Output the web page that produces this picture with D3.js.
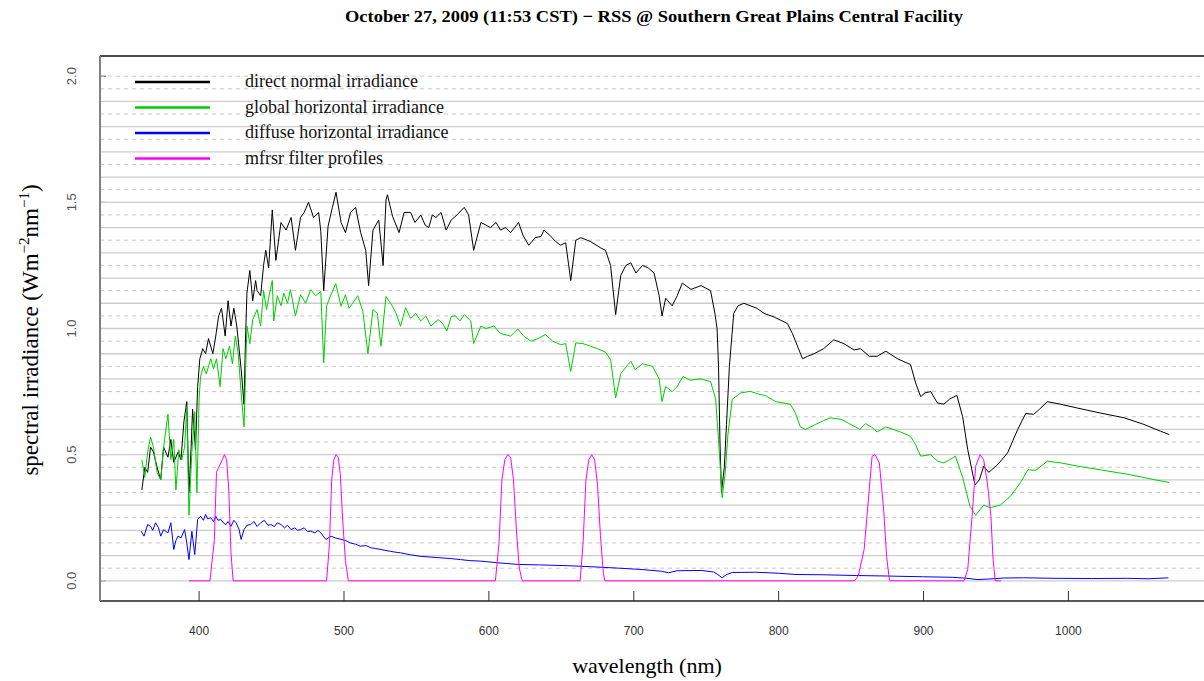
<!DOCTYPE html>
<html>
<head>
<meta charset="utf-8">
<script src="https://cdn.jsdelivr.net/npm/d3@7"></script>
<style>
  body { margin: 0; background: #fff; }
  svg { display: block; }
</style>
</head>
<body>
<svg id="chart"></svg>
<script>
(function() {

// ---------------- data (wavelength nm, irradiance) ----------------
const directNormal = [
  [360.5,0.36],[362.5,0.45],[364.5,0.43],[366.5,0.53],[368.5,0.51],[371,0.45],[373.5,0.40],[375.5,0.53],
  [378.5,0.49],[380.5,0.56],[382.5,0.47],[385.5,0.51],[387.5,0.48],[389.5,0.63],[391.5,0.71],[393,0.35],
  [394.5,0.53],[395.5,0.68],[397.5,0.52],[399,0.77],[400.5,0.88],[402.5,0.92],[404.5,0.90],[406.5,0.96],
  [409.5,0.90],[411.5,0.97],[413.5,1.05],[415.5,1.08],[418,0.97],[420,1.11],[422,1.01],[424,1.08],
  [426,1.01],[429,0.84],[431,0.70],[432,0.95],[433,1.14],[435,1.23],[437,1.11],[439,1.19],[440,1.15],
  [442.5,1.13],[444.5,1.25],[446,1.31],[448,1.24],[450.5,1.47],[453,1.27],[456.5,1.42],[460,1.39],
  [463.5,1.44],[466.5,1.31],[470,1.44],[472.5,1.46],[475.5,1.50],[479,1.44],[482.5,1.46],[484,1.385],
  [486,1.15],[489,1.405],[492,1.48],[494.5,1.54],[498,1.42],[501,1.38],[504.5,1.46],[508,1.48],
  [511.5,1.38],[515,1.31],[517,1.17],[520,1.39],[524,1.43],[527,1.25],[529,1.51],[530,1.53],
  [533.5,1.445],[538,1.38],[541.5,1.46],[546,1.46],[549,1.42],[553,1.45],[556,1.41],[558.5,1.40],
  [561,1.45],[563.5,1.44],[567,1.46],[570.5,1.39],[574,1.43],[578,1.45],[583,1.48],[586,1.45],
  [589.5,1.31],[594.5,1.42],[598,1.41],[601,1.40],[605,1.42],[608,1.39],[611.5,1.40],[615,1.38],
  [620.5,1.42],[623.5,1.37],[627.5,1.33],[632,1.36],[636,1.365],[638,1.39],[642,1.37],[646,1.345],
  [649.5,1.33],[653,1.34],[656.5,1.19],[660,1.35],[663.5,1.36],[670,1.345],[677,1.32],[680.5,1.31],
  [684,1.25],[687.5,1.055],[691,1.21],[694.5,1.25],[698,1.26],[701.5,1.22],[706,1.25],[710,1.24],
  [714,1.22],[717.5,1.13],[719.5,1.05],[722,1.12],[726.5,1.09],[730,1.13],[733.5,1.18],[739.5,1.155],
  [746.5,1.17],[753,1.15],[756,1.06],[757.5,1.0],[758.5,0.85],[759.5,0.55],[760.5,0.35],[762.5,0.45],
  [764,0.62],[766,0.85],[769,1.06],[772,1.09],[776,1.10],[780.5,1.09],[785,1.08],[790,1.06],
  [797,1.045],[806,1.02],[809.5,0.98],[813,0.93],[816.5,0.88],[820,0.89],[824.5,0.90],[831,0.92],
  [838,0.955],[845,0.94],[852,0.915],[856.5,0.92],[862.5,0.89],[868,0.89],[874,0.91],[882,0.88],
  [891,0.857],[894.5,0.785],[898,0.73],[901,0.745],[905,0.75],[909.5,0.705],[914,0.70],[918,0.72],
  [923,0.735],[927,0.65],[930.5,0.52],[935.5,0.38],[938.5,0.40],[941.5,0.454],[945,0.43],[951,0.46],
  [958,0.507],[965,0.60],[970.5,0.663],[976,0.66],[980,0.68],[985.5,0.71],[994.5,0.70],[1006,0.685],
  [1022,0.665],[1038.5,0.646],[1052,0.62],[1063.5,0.593],[1069.5,0.58]
];

const globalHorizontal = [
  [360.5,0.48],[362.5,0.41],[364.5,0.51],[366.5,0.57],[368.5,0.53],[371,0.43],[373.5,0.40],[375.5,0.53],
  [378.5,0.66],[380.5,0.48],[382.5,0.56],[384,0.36],[386,0.52],[388,0.48],[390,0.53],[391.5,0.69],
  [393,0.26],[395,0.51],[397,0.67],[398.5,0.35],[400,0.72],[401,0.81],[403,0.85],[405,0.82],
  [408,0.88],[410,0.84],[412,0.88],[414.5,0.77],[416.5,0.92],[418.5,0.88],[421,0.93],[423,0.86],
  [425,0.97],[427,0.90],[429,0.745],[431,0.61],[433,1.01],[435,0.94],[437,1.035],[440,1.075],
  [442.5,1.01],[444.5,1.15],[446.5,1.075],[448,1.12],[450.5,1.19],[451.5,1.03],[454,1.13],[456.5,1.09],
  [458.5,1.14],[461,1.10],[463,1.154],[466.5,1.05],[470,1.134],[473.5,1.10],[477,1.154],[480.5,1.13],
  [484,1.147],[486,0.864],[488,1.09],[491,1.134],[494.3,1.178],[498,1.088],[501,1.134],[503.5,1.08],
  [506,1.10],[509.5,1.13],[513,1.068],[516.5,0.90],[520,1.075],[523,1.06],[525.5,0.93],[529,1.127],
  [533.5,1.088],[536,1.06],[539,1.009],[542.5,1.082],[546,1.04],[549.5,1.06],[553,1.03],[556.5,1.05],
  [560,1.01],[565,1.035],[568,1.02],[571,0.99],[574,1.048],[577,1.05],[580,1.03],[583,1.055],
  [587.5,1.03],[589.5,0.94],[594.5,1.01],[598,1.00],[603.5,1.01],[608,0.98],[615,0.97],[620,0.998],
  [624,0.97],[629,0.95],[634,0.96],[639,0.976],[644,0.95],[649.5,0.936],[653,0.94],[656.5,0.83],
  [660,0.943],[665,0.94],[670,0.93],[675,0.92],[680.5,0.906],[684,0.877],[687.5,0.725],[691,0.82],
  [696,0.857],[698,0.87],[701,0.837],[706,0.86],[713,0.85],[717.5,0.80],[719.5,0.71],[722,0.77],
  [726.5,0.75],[730,0.77],[734,0.81],[739,0.795],[746,0.80],[753,0.79],[756.5,0.72],[758.5,0.56],
  [761,0.33],[763,0.42],[765,0.58],[768,0.72],[774,0.745],[780.5,0.751],[786,0.74],[791,0.734],
  [798,0.71],[808,0.70],[811.5,0.666],[815,0.61],[818.5,0.60],[825.5,0.62],[831,0.635],[836,0.646],
  [843,0.64],[848,0.625],[853,0.61],[856,0.60],[860,0.623],[864,0.61],[868,0.59],[874,0.61],
  [879,0.60],[884,0.59],[891,0.573],[894.5,0.54],[898,0.494],[905,0.50],[909.5,0.475],[914,0.467],
  [918,0.48],[922,0.494],[927,0.41],[932,0.296],[936,0.26],[941.5,0.30],[946,0.29],[953,0.30],
  [960,0.335],[967,0.39],[972,0.44],[977.5,0.438],[985.5,0.474],[995,0.467],[1006,0.455],[1022,0.44],
  [1043,0.42],[1060,0.40],[1069.5,0.39]
];

const diffuseHorizontal = [
  [360,0.197],[362,0.177],[364.5,0.223],[366.5,0.216],[368,0.20],[370,0.23],[372,0.21],[373.5,0.177],
  [375.5,0.203],[378.5,0.19],[380.5,0.23],[382.5,0.124],[384,0.16],[385.5,0.177],[387.5,0.17],[390,0.203],
  [391.5,0.15],[393,0.084],[395,0.196],[397,0.104],[399,0.243],[401,0.256],[403,0.24],[404.5,0.263],
  [406,0.245],[408,0.25],[410,0.235],[411.5,0.256],[413,0.24],[415,0.243],[417,0.228],[418.5,0.223],
  [420,0.235],[422,0.216],[424,0.24],[425.5,0.23],[427.5,0.205],[429,0.164],[431,0.203],[433,0.22],
  [435.5,0.223],[438,0.235],[440,0.215],[442.5,0.23],[445,0.24],[447.5,0.22],[449.5,0.223],[452,0.215],
  [454,0.23],[456.5,0.223],[459,0.21],[461,0.22],[463.5,0.203],[466,0.21],[468,0.20],[470,0.203],
  [472.5,0.21],[475,0.195],[477,0.197],[480,0.19],[482,0.20],[484,0.19],[487.5,0.164],[491,0.177],
  [494,0.17],[498,0.164],[501,0.16],[504.5,0.15],[508,0.145],[511.5,0.137],[515,0.14],[518.5,0.131],
  [522,0.128],[525.5,0.124],[529,0.12],[532,0.117],[535,0.114],[539,0.111],[546,0.103],[553,0.097],
  [560,0.094],[567,0.091],[574,0.088],[580.5,0.084],[587,0.08],[594.5,0.078],[605,0.072],[620,0.065],
  [635,0.063],[654,0.06],[670,0.056],[690,0.05],[705,0.045],[719,0.038],[724,0.032],[730,0.04],
  [747,0.041],[755,0.035],[758,0.025],[761,0.012],[764,0.025],[768,0.033],[784,0.034],[800,0.03],
  [812,0.025],[830,0.024],[853.5,0.021],[875,0.019],[900,0.016],[920,0.014],[930,0.01],[937,0.005],
  [945,0.007],[955,0.011],[969,0.012],[990,0.01],[1016,0.009],[1040,0.01],[1055,0.008],[1069,0.012]
];

const filterProfiles = [
  [393,0],[407.5,0],[410.5,0.16],[412,0.43],[414,0.455],[416,0.48],[417.5,0.5],[419,0.48],[420.5,0.36],[422,0.11],[423.5,0],
  [488,0],[490,0.15],[491.5,0.4],[493,0.48],[494.5,0.5],[496,0.49],[497.5,0.42],[499,0.25],[501,0.08],[503,0],
  [604.5,0],[607,0.15],[609,0.4],[611,0.48],[613,0.5],[615,0.49],[617,0.4],[619,0.2],[621,0.05],[623,0],
  [663,0],[665,0.15],[667,0.4],[669,0.48],[671,0.5],[673,0.48],[675,0.38],[677,0.18],[679,0.03],[680,0],
  [852.5,0],[855,0.02],[859,0.124],[862.5,0.36],[864.5,0.494],[866.5,0.5],[869.5,0.467],[872.5,0.28],[874.5,0.097],[876.5,0],
  [928,0],[930.5,0.045],[933.5,0.256],[936,0.454],[939,0.5],[941.5,0.48],[944,0.39],[946.5,0.256],[948,0.084],[949.5,0],[953.5,0]
];

const seriesNames  = ["direct normal irradiance", "global horizontal irradiance", "diffuse horizontal irradiance", "mfrsr filter profiles"];
const seriesColors = ["#000000", "#00cc00", "#0000ff", "#ff00ff"];
const xTicks = [400, 500, 600, 700, 800, 900, 1000];
const yTicks = [0, 0.5, 1.0, 1.5, 2.0];

// ---------------- layout ----------------
const width = 1204, height = 681;
const plot = { left: 100, top: 56, right: 1211, bottom: 601 };
const serif = "Liberation Serif, Times New Roman, serif";
const sans = "Liberation Sans, Arial, sans-serif";

const svg = d3.select("#chart").attr("width", width).attr("height", height);

const x = d3.scaleLinear().domain([331.6, 1098.4]).range([plot.left, plot.right]);
const y = d3.scaleLinear().domain([-0.08, 2.08]).range([plot.bottom, plot.top]);

// y ticks (mostly hidden under grid lines)
svg.append("g").selectAll("line")
  .data(yTicks).join("line")
    .attr("x1", plot.left).attr("x2", plot.left + 6)
    .attr("y1", d => y(d)).attr("y2", d => y(d))
    .attr("stroke", "#444").attr("stroke-width", 1);

// grid: solid every 0.1, dashed in between (top one dashed too)
const gridSolid = d3.range(0, 20).map(i => i / 10);
const gridDashed = d3.range(1, 40, 2).map(i => i / 20).concat([2.0]);

svg.append("g").selectAll("line")
  .data(gridSolid).join("line")
    .attr("x1", plot.left).attr("x2", width)
    .attr("y1", d => y(d)).attr("y2", d => y(d))
    .attr("stroke", "#cccccc").attr("stroke-width", 1.3);

svg.append("g").selectAll("line")
  .data(gridDashed).join("line")
    .attr("x1", plot.left).attr("x2", width)
    .attr("y1", d => y(d)).attr("y2", d => y(d))
    .attr("stroke", "#c8c8c8").attr("stroke-width", 1)
    .attr("stroke-dasharray", "4,4");

// box lines
svg.append("line").attr("x1", plot.left).attr("x2", width).attr("y1", plot.top).attr("y2", plot.top)
  .attr("stroke", "#111").attr("stroke-width", 1.5);
svg.append("line").attr("x1", plot.left).attr("x2", width).attr("y1", plot.bottom).attr("y2", plot.bottom)
  .attr("stroke", "#222").attr("stroke-width", 1.5);
svg.append("line").attr("x1", plot.left).attr("x2", plot.left).attr("y1", plot.top).attr("y2", plot.bottom)
  .attr("stroke", "#808080").attr("stroke-width", 2);

// x ticks point inward
svg.append("g").selectAll("line")
  .data(xTicks).join("line")
    .attr("x1", d => x(d)).attr("x2", d => x(d))
    .attr("y1", plot.bottom).attr("y2", plot.bottom - 10)
    .attr("stroke", "#333").attr("stroke-width", 1);

svg.append("g").selectAll("text")
  .data(xTicks).join("text")
    .attr("x", d => x(d)).attr("y", 635)
    .attr("text-anchor", "middle")
    .attr("font-family", sans)
    .attr("font-size", 12).attr("fill", "#333")
    .text(d => d);

svg.append("g").selectAll("text")
  .data(yTicks).join("text")
    .attr("transform", d => `translate(76, ${y(d)}) rotate(-90)`)
    .attr("text-anchor", "middle")
    .attr("font-family", sans)
    .attr("font-size", 13).attr("fill", "#555")
    .text(d => d.toFixed(1));

// curves
const line = d3.line().x(d => x(d[0])).y(d => y(d[1]));
const allSeries = [directNormal, globalHorizontal, diffuseHorizontal, filterProfiles];

svg.append("g").selectAll("path")
  .data(allSeries).join("path")
    .attr("d", line)
    .attr("fill", "none")
    .attr("stroke", (d, i) => seriesColors[i])
    .attr("stroke-width", 1);

// legend
const legend = svg.append("g");
seriesNames.forEach((name, i) => {
  const ly = 82 + i * 25.5;
  legend.append("line")
    .attr("x1", 135).attr("x2", 210).attr("y1", ly).attr("y2", ly)
    .attr("stroke", seriesColors[i]).attr("stroke-width", 2.5);
  legend.append("text")
    .attr("x", 245).attr("y", ly + 5)
    .attr("font-family", serif)
    .attr("font-size", 18).attr("fill", "#111")
    .text(name);
});

// titles
svg.append("text")
  .attr("x", 654).attr("y", 22)
  .attr("text-anchor", "middle")
  .attr("font-family", serif)
  .attr("font-weight", "bold").attr("font-size", 17)
  .attr("textLength", 618).attr("lengthAdjust", "spacingAndGlyphs")
  .text("October 27, 2009 (11:53 CST) \u2212 RSS @ Southern Great Plains Central Facility");

svg.append("text")
  .attr("x", 647).attr("y", 673)
  .attr("text-anchor", "middle")
  .attr("font-family", serif)
  .attr("font-size", 22)
  .text("wavelength (nm)");

const ylab = svg.append("text")
  .attr("transform", "translate(38, 330) rotate(-90)")
  .attr("text-anchor", "middle")
  .attr("font-family", serif)
  .attr("font-size", 23);
ylab.append("tspan").text("spectral irradiance (Wm");
ylab.append("tspan").attr("font-size", 15).attr("dy", -9).text("\u22122");
ylab.append("tspan").attr("dy", 9).text("nm");
ylab.append("tspan").attr("font-size", 15).attr("dy", -9).text("\u22121");
ylab.append("tspan").attr("dy", 9).text(")");

})();
</script>
</body>
</html>
